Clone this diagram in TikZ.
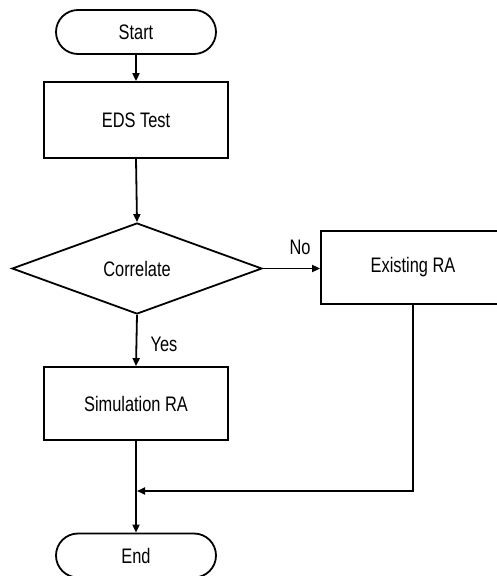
\documentclass[tikz,border=0pt]{standalone}
\usepackage{fontspec}
\setmainfont{Liberation Sans}[FakeStretch=0.78]
\usetikzlibrary{shapes.geometric,arrows.meta}
\begin{document}
\begin{tikzpicture}[x=1pt,y=-1pt,
  every node/.style={font=\fontsize{21}{25}\selectfont},
  arr/.style={line width=1.8pt, -{Triangle[length=8pt,width=7pt]}},
  term/.style={draw, line width=1.8pt, rounded corners=22pt, minimum width=160pt, minimum height=44pt, inner sep=0pt},
  proc/.style={draw, line width=1.8pt, minimum width=184pt, inner sep=0pt},
  decision/.style={draw, diamond, line width=1.8pt, minimum width=250pt, minimum height=91pt, inner sep=0pt}]
\clip (0,0) rectangle (497,576);
\fill[white] (0,0) rectangle (497,576);
\node[term] (start) at (136,32) {Start};
\node[proc, minimum height=76pt] (eds) at (136,120) {EDS Test};
\node[decision] (corr) at (137,268.5) {Correlate};
\node[proc, minimum height=73pt] (exist) at (413,267.5) {Existing RA};
\node[proc, minimum height=73pt] (sim) at (136,403.5) {Simulation RA};
\node[term] (end) at (136,555.5) {End};
\coordinate (join) at (137,491);
\draw[arr] (start.south) -- (eds.north);
\draw[arr] (eds.south) -- (corr.north);
\draw[arr] (corr.east) -- (exist.west |- corr.east);
\draw[arr] (corr.south) -- (sim.north);
\draw[arr] (sim.south) -- (end.north);
\draw[arr] (exist.south) |- (join);
\node (no) at (300,247) {No};
\node (yes) at (164,344) {Yes};
\end{tikzpicture}
\end{document}
